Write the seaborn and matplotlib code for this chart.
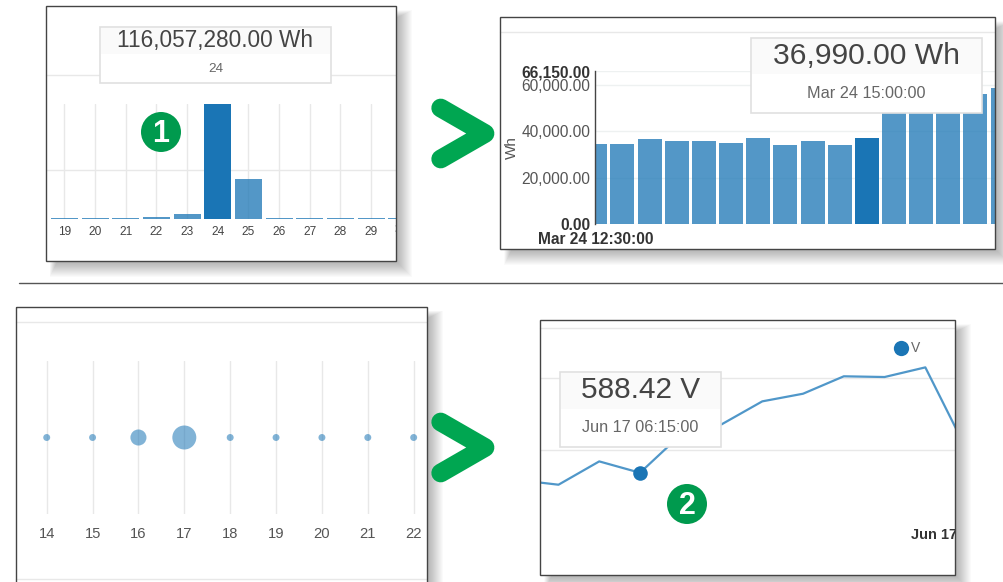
import pandas as pd
import seaborn as sns
import matplotlib.pyplot as plt
from matplotlib.patches import Rectangle, Circle
from matplotlib.lines import Line2D

W, H = 1004, 582
BLUE = '#1a75b5'
GREEN = '#00a651'
GRID = '#e8e8e8'

# panel 1: energy per day
days_1 = ['19', '20', '21', '22', '23', '24', '25', '26', '27', '28', '29', '30']
wh_1 = [1200000, 1100000, 1100000, 2200000, 5000000, 116057280, 40400000,
        1100000, 1100000, 1200000, 1100000, 1100000]

# panel 2: energy per quarter hour
times_2 = ['12:30', '12:45', '13:00', '13:15', '13:30', '13:45', '14:00', '14:15',
           '14:30', '14:45', '15:00', '15:15', '15:30', '15:45', '16:00', '16:15']
wh_2 = [34700, 34570, 36570, 36000, 35700, 35000, 37300, 34300,
        35700, 34100, 36990, 52000, 53000, 54000, 56300, 58700]
ticks_2 = [0, 20000, 40000, 60000, 66150]
ticklabels_2 = ['0.00', '20,000.00', '40,000.00', '60,000.00', '66,150.00']

# panel 3: bubbles per day
days_3 = [14, 15, 16, 17, 18, 19, 20, 21, 22]
level_3 = [1, 1, 1, 1, 1, 1, 1, 1, 1]
bubble_3 = [2, 2, 41, 100, 2, 2, 2, 2, 2]

# panel 4: voltage
times_4 = ['05:30', '05:45', '06:00', '06:15', '06:30', '06:45', '07:00',
           '07:15', '07:30', '07:45', '08:00', '08:15']
volts_4 = [587.92, 587.59, 589.21, 588.42, 591.06, 591.78, 593.38,
           593.91, 595.12, 595.07, 595.74, 590.09]

sns.set_style('white')
plt.rcParams['font.family'] = ['Liberation Sans', 'DejaVu Sans']

fig = plt.figure(figsize=(W / 100, H / 100), dpi=100)


def px_axes(left, top, right, bottom, z=1):
    a = fig.add_axes([left / W, 1 - bottom / H, (right - left) / W, (bottom - top) / H], zorder=z)
    a.patch.set_alpha(0)
    return a


def tooltip(left, top, right, bottom, split, head, sub, head_size, sub_size):
    mid = (left + right) / 2
    fg.add_patch(Rectangle((left, top), right - left, bottom - top, fc='white', ec='#e0e0e0', lw=1.2))
    fg.add_patch(Rectangle((left + 1, top + 1), right - left - 2, split - top - 1, fc='#fafafa', ec='none'))
    fg.text(mid, (top + split) / 2, head, ha='center', va='center', fontsize=head_size, color='#444444')
    fg.text(mid, (split + bottom) / 2, sub, ha='center', va='center', fontsize=sub_size, color='#666666')


# page layer: shadows, white cards, card rules
bg = px_axes(0, 0, W, H, z=0)
bg.set_xlim(0, W)
bg.set_ylim(H, 0)
bg.axis('off')

cards = [(46, 6, 396, 261), (500.5, 17, 995, 249), (15.7, 306.7, 426.7, 600), (540.5, 320, 955.5, 575)]
for l, t, r, b in cards:
    for g in range(17):
        inset = 4 + (16 - g) * 0.5
        bg.add_patch(Rectangle((l + inset, t + inset), r + g - l - inset, b + g - t - inset,
                               fc='black', ec='none', alpha=0.02))
    bg.add_patch(Rectangle((l, t), r - l, b - t, fc='white', ec='none'))

rules = [(46, 396, 74.5), (500.5, 995, 31.5), (15.7, 426.7, 322), (15.7, 426.7, 579), (540.5, 955.5, 328)]
for x0, x1, y in rules:
    bg.plot([x0, x1], [y, y], color=GRID, lw=1)
bg.plot([19, W], [283.3, 283.3], color='#555555', lw=1)

# panel 1
ax1 = px_axes(46, 104, 396, 219.3)
sns.barplot(x=days_1, y=wh_1, color=BLUE, saturation=1, width=0.88, alpha=0.75, linewidth=0, errorbar=None, ax=ax1)
ax1.patches[days_1.index('24')].set_alpha(1)
ax1.set_xlim(-0.603, 10.81)
ax1.set_ylim(0, 116057280)
ax1.set_yticks([50000000], [''])
ax1.set_xticks(range(11), days_1[:11])
ax1.grid(True, color=GRID, lw=1)
ax1.set_axisbelow(True)
ax1.tick_params(axis='x', length=0, pad=4.5, labelsize=8.6, labelcolor='#444444')
ax1.tick_params(axis='y', length=0)
sns.despine(ax=ax1, left=True, bottom=True)

# panel 2
ax2 = px_axes(595.3, 71, 995, 224)
sns.barplot(x=times_2, y=wh_2, color=BLUE, saturation=1, width=0.885, alpha=0.75, linewidth=0, errorbar=None, ax=ax2)
ax2.patches[times_2.index('15:00')].set_alpha(1)
ax2.set_xlim(0, 14.72)
ax2.set_ylim(0, 66150)
ax2.set_yticks(ticks_2, ticklabels_2)
ax2.set_xticks([0], ['Mar 24 12:30:00'])
ax2.grid(True, axis='y', color='#eef1f1', lw=1)
ax2.set_axisbelow(True)
ax2.tick_params(axis='x', length=0, pad=6, labelsize=11.2, labelcolor='#333333')
ax2.tick_params(axis='y', length=0, pad=3.6, labelsize=11.2, labelcolor='#555555')
for lab in ax2.get_xticklabels():
    lab.set_fontweight('bold')
for i in (0, 4):
    ax2.get_yticklabels()[i].set_fontweight('bold')
    ax2.get_yticklabels()[i].set_color('#333333')
ax2.set_ylabel('Wh', fontsize=11, color='#555555')
ax2.yaxis.set_label_coords(-0.192, 0.5)
sns.despine(ax=ax2, bottom=True, right=True, top=True)
ax2.spines['left'].set_color('#444444')
ax2.spines['left'].set_linewidth(1)

# panel 3
ax3 = px_axes(15.7, 361, 426.7, 514)
sns.scatterplot(x=days_3, y=level_3, size=bubble_3, sizes=(25, 298), color=BLUE, alpha=0.55,
                linewidth=0, legend=False, ax=ax3, zorder=3)
ax3.set_xlim(13.324, 22.284)
ax3.set_xticks(days_3)
ax3.set_yticks([])
ax3.grid(True, axis='x', color=GRID, lw=1)
ax3.set_axisbelow(True)
ax3.tick_params(axis='x', length=0, pad=9.4, labelsize=10.6, labelcolor='#555555')
sns.despine(ax=ax3, left=True, bottom=True)

# panel 4
ax4 = px_axes(540.5, 320, 955.5, 575)
df4 = pd.DataFrame({'pos': range(len(times_4)), 'time': times_4, 'volts': volts_4})
sns.lineplot(data=df4, x='pos', y='volts', color='#5097c9', lw=1.6, ax=ax4)
sns.scatterplot(data=df4[df4['time'] == '06:15'], x='pos', y='volts', color=BLUE, s=110,
                linewidth=0, ax=ax4, zorder=4, clip_on=False)
ax4.set_xlim(0.559, 10.74)
ax4.set_ylim(581.32, 599.03)
ax4.set_yticks([590, 595], ['', ''])
ax4.set_xticks([])
ax4.set_xlabel('')
ax4.set_ylabel('')
ax4.grid(True, axis='y', color=GRID, lw=1)
ax4.set_axisbelow(True)
ax4.tick_params(axis='y', length=0)
sns.despine(ax=ax4, left=True, bottom=True)

# top layer: tooltips, badges, arrows, card borders
fg = px_axes(0, 0, W, H, z=5)
fg.set_xlim(0, W)
fg.set_ylim(H, 0)
fg.axis('off')

tooltip(100, 27, 331, 83, 54, '116,057,280.00 Wh', '24', 16.3, 9.7)
tooltip(751, 38, 982, 113, 74, '36,990.00 Wh', 'Mar 24 15:00:00', 21.7, 11.7)
tooltip(560.3, 372, 720.7, 446.7, 409, '588.42 V', 'Jun 17 06:15:00', 21.4, 11.7)

for (cx, cy), num in zip([(161, 132), (687, 504)], ['1', '2']):
    fg.add_patch(Circle((cx, cy), 20, fc='#009a4e', ec='none'))
    fg.text(cx, cy + 2, num, ha='center', va='center', color='white', fontsize=22, fontweight='bold')

for dy in (0, 314):
    fg.add_line(Line2D([440.7, 485, 440.7], [108 + dy, 133.5 + dy, 159 + dy], color=GREEN, lw=13.5,
                       solid_capstyle='round', solid_joinstyle='round'))

fg.plot([900.7], [348], 'o', color=BLUE, ms=11, mew=0)
fg.text(910.5, 348, 'V', ha='left', va='center', fontsize=10, color='#666666')

clip_1 = Rectangle((46, 6), 350, 255, transform=fg.transData)
t = fg.text(401.7, 230, '30', ha='center', va='center', fontsize=8.6, color='#444444', clip_on=True)
t.set_clip_path(clip_1)
clip_4 = Rectangle((540.5, 320), 415, 255, transform=fg.transData)
t = fg.text(911.5, 535, 'Jun 17', ha='left', va='center', fontsize=10.5, fontweight='bold',
            color='#333333', clip_on=True)
t.set_clip_path(clip_4)

for l, t_, r, b in cards:
    fg.add_patch(Rectangle((l, t_), r - l, b - t_, fc='none', ec='#444444', lw=1))

fig.savefig('out.png', dpi=100)
